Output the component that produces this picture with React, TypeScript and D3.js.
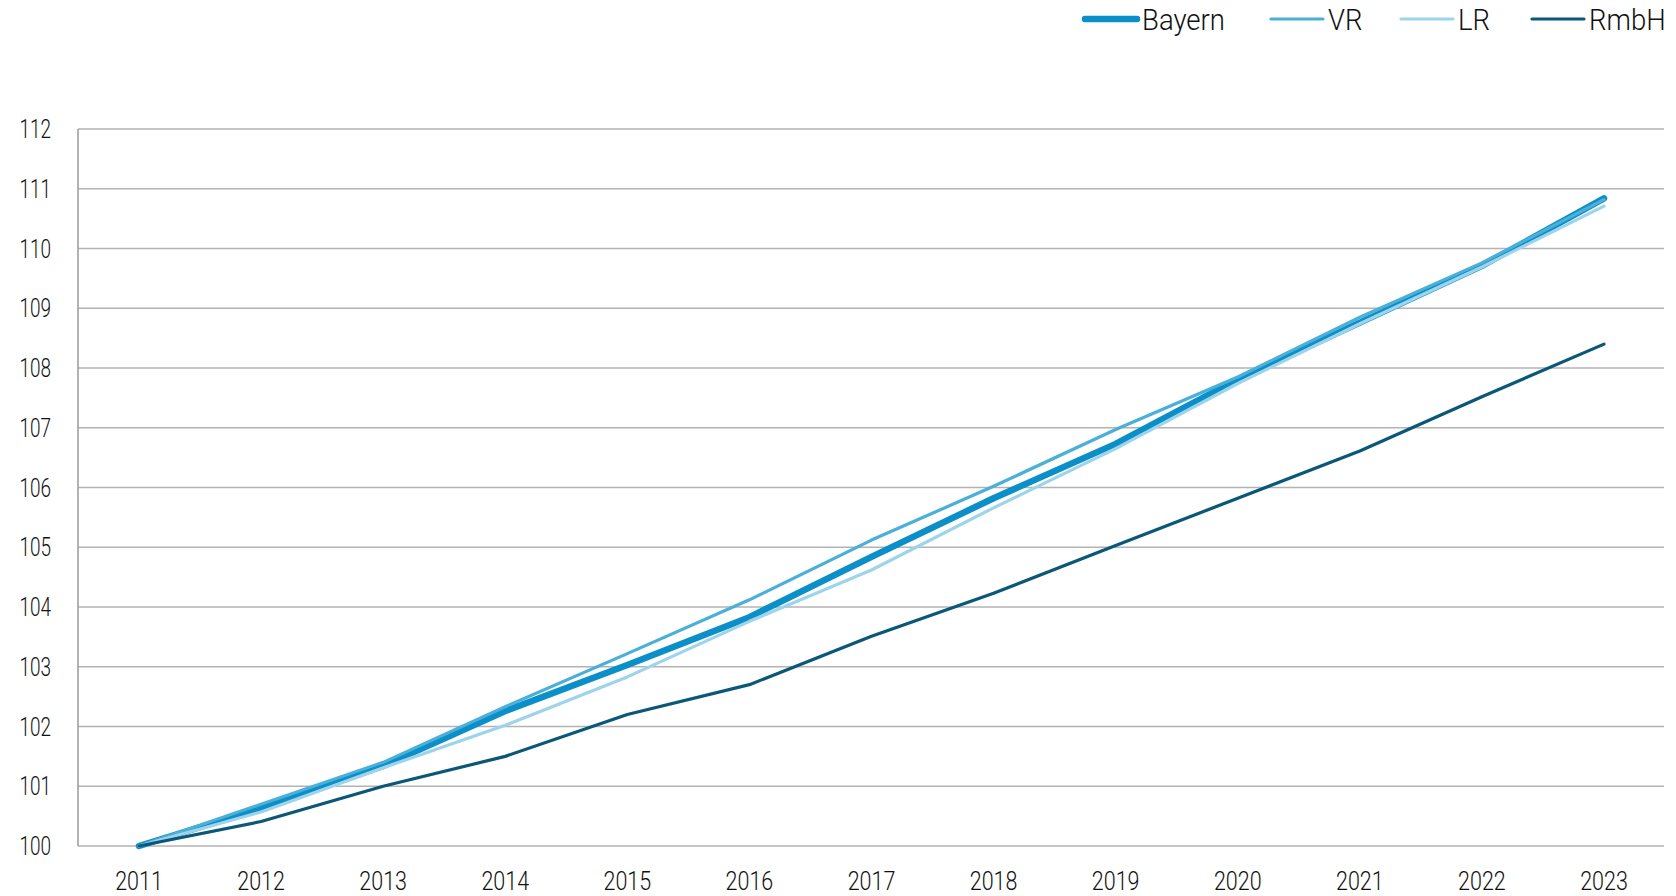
import React from "react";
import * as d3 from "d3";

const years = [2011, 2012, 2013, 2014, 2015, 2016, 2017, 2018, 2019, 2020, 2021, 2022, 2023];
const bayern = [100, 100.63, 101.34, 102.26, 103.03, 103.83, 104.84, 105.82, 106.73, 107.81, 108.76, 109.71, 110.84];
const vr = [100, 100.7, 101.4, 102.33, 103.22, 104.12, 105.12, 106.02, 106.97, 107.85, 108.85, 109.76, 110.82];
const lr = [100, 100.57, 101.31, 102.02, 102.83, 103.76, 104.62, 105.66, 106.65, 107.74, 108.74, 109.69, 110.71];
const rmbh = [100, 100.41, 101.0, 101.5, 102.2, 102.7, 103.51, 104.23, 105.03, 105.82, 106.61, 107.52, 108.4];
const yTicks = [100, 101, 102, 103, 104, 105, 106, 107, 108, 109, 110, 111, 112];

const seriesNames = ["Bayern", "VR", "LR", "RmbH"];
const seriesColors = ["#0a8fc9", "#4aafd9", "#9ed4eb", "#0b5778"];
const seriesWidths = [6.5, 3.2, 3.2, 3.2];
const seriesValues = [bayern, vr, lr, rmbh];

const W = 1676;
const H = 896;
const FONT = "'Roboto', sans-serif";

export default function App() {
  const x = d3.scaleLinear().domain([2011, 2023]).range([139, 1604]);
  const y = d3.scaleLinear().domain([100, 112]).range([846, 129]);
  const line = d3
    .line<number>()
    .x((_, i) => x(years[i]))
    .y((d) => y(d));

  const legendX = [1085, 1271, 1401, 1532];

  return (
    <svg
      width={W}
      height={H}
      style={{ position: "absolute", left: 0, top: 0, background: "#fff" }}
      fontFamily={FONT}
      fontWeight={300}
    >
      {yTicks.map((t) => (
        <g key={t}>
          <line x1={78} x2={1664} y1={y(t)} y2={y(t)} stroke="#b3b3b3" strokeWidth={1.4} />
          <text
            transform={`translate(51,${y(t) + 9}) scale(0.76,1)`}
            textAnchor="end"
            fontSize={25}
            fill="#111"
          >
            {t}
          </text>
        </g>
      ))}
      <line x1={78} x2={78} y1={y(112)} y2={y(100)} stroke="#a0a0a0" strokeWidth={1.6} />
      {years.map((yr) => (
        <text
          key={yr}
          transform={`translate(${x(yr)},890) scale(0.86,1)`}
          textAnchor="middle"
          fontSize={25}
          fill="#111"
        >
          {yr}
        </text>
      ))}
      {seriesValues.map((vals, i) => (
        <path
          key={seriesNames[i]}
          d={line(vals) || ""}
          fill="none"
          stroke={seriesColors[i]}
          strokeWidth={seriesWidths[i]}
          strokeLinejoin="round"
          strokeLinecap="round"
        />
      ))}
      {seriesNames.map((n, i) => (
        <g key={n}>
          <line
            x1={legendX[i]}
            x2={legendX[i] + 52}
            y1={19}
            y2={19}
            stroke={seriesColors[i]}
            strokeWidth={seriesWidths[i]}
            strokeLinecap="round"
          />
          <text
            transform={`translate(${legendX[i] + 57},30) scale(0.95,1)`}
            fontSize={29}
            fill="#111"
          >
            {n}
          </text>
        </g>
      ))}
    </svg>
  );
}
